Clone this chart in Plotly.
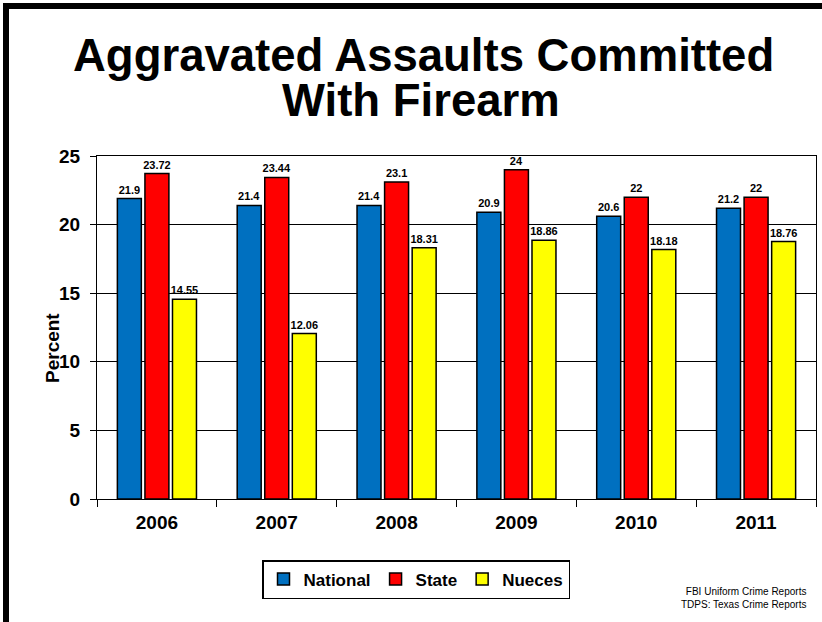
import plotly.graph_objects as go

years = ["2006", "2007", "2008", "2009", "2010", "2011"]
national = [21.9, 21.4, 21.4, 20.9, 20.6, 21.2]
state = [23.72, 23.44, 23.1, 24, 22, 22]
nueces = [14.55, 12.06, 18.31, 18.86, 18.18, 18.76]
series_names = ["National", "State", "Nueces"]
series_colors = ["#0070C0", "#FF0000", "#FFFF00"]
y_ticks = [0, 5, 10, 15, 20, 25]

W, H = 822, 622
L, R, T, B = 97, 6, 156, 123
PW, PH = W - L - R, H - T - B


def px(x):
    return (x - L) / PW


def py(y):
    return 1 - (y - T) / PH


FONT = "Liberation Sans, Arial, sans-serif"

fig = go.Figure()
for name, vals, col in zip(series_names, [national, state, nueces], series_colors):
    fig.add_trace(go.Bar(
        name=name, x=years, y=vals,
        marker=dict(color=col, line=dict(color="black", width=1.5)),
        text=[str(v) for v in vals], textposition="outside",
        textfont=dict(family=FONT, size=11, color="black", weight="bold"),
        constraintext="none", cliponaxis=False,
    ))

fig.update_layout(
    width=W, height=H,
    margin=dict(l=L, r=R, t=T, b=B, pad=0),
    paper_bgcolor="white", plot_bgcolor="white",
    barmode="group", bargap=0.31, bargroupgap=0.13,
    font=dict(family=FONT, color="black"),
    showlegend=True,
    legend=dict(
        orientation="h", x=px(416), xanchor="center", y=py(560), yanchor="top",
        bordercolor="black", borderwidth=1.5, bgcolor="white",
        font=dict(family=FONT, size=17, color="black", weight="bold"),
        itemwidth=30, traceorder="normal",
    ),
)
fig.update_xaxes(
    type="category", showline=True, linecolor="black", linewidth=1, mirror=True,
    ticks="outside", tickson="boundaries", ticklen=7, tickcolor="black",
    tickfont=dict(family=FONT, size=19, color="black", weight="bold"),
    ticklabelstandoff=6, showgrid=False,
)
fig.update_yaxes(
    range=[0, 25], tickvals=y_ticks, showline=True, linecolor="black", linewidth=1,
    mirror=True, ticks="outside", ticklen=6, tickcolor="black",
    tickfont=dict(family=FONT, size=19, color="black", weight="bold"),
    ticklabelstandoff=6, showgrid=True, gridcolor="black", gridwidth=1, zeroline=False,
)

# Title (two lines)
fig.add_annotation(text="Aggravated Assaults Committed", xref="paper", yref="paper",
                   x=px(423), y=py(83), xanchor="center", yanchor="bottom", showarrow=False,
                   font=dict(family=FONT, size=45.5, color="black", weight="bold"))
fig.add_annotation(text="With Firearm", xref="paper", yref="paper",
                   x=px(421), y=py(128), xanchor="center", yanchor="bottom", showarrow=False,
                   font=dict(family=FONT, size=45.5, color="black", weight="bold"))
# Y axis title
fig.add_annotation(text="Percent", xref="paper", yref="paper", x=px(52), y=py(348),
                   xanchor="center", yanchor="middle", textangle=-90, showarrow=False,
                   font=dict(family=FONT, size=19, color="black", weight="bold"))
# Source
fig.add_annotation(text="FBI Uniform Crime Reports<br>TDPS: Texas Crime Reports",
                   xref="paper", yref="paper", x=px(808), y=py(598), xanchor="right",
                   yanchor="middle", align="right", showarrow=False,
                   font=dict(family=FONT, size=10, color="black"))
# Slide frame (top and left black borders)
fig.add_shape(type="rect", xref="paper", yref="paper", x0=px(3), x1=px(W + 5), y0=py(9), y1=py(3),
              fillcolor="black", line=dict(width=0), layer="above")
fig.add_shape(type="rect", xref="paper", yref="paper", x0=px(3), x1=px(9), y0=py(H + 5), y1=py(3),
              fillcolor="black", line=dict(width=0), layer="above")

fig.write_html("out.html", config={"displayModeBar": False},
               post_script="document.body.style.margin='0';document.body.style.overflow='hidden';")
